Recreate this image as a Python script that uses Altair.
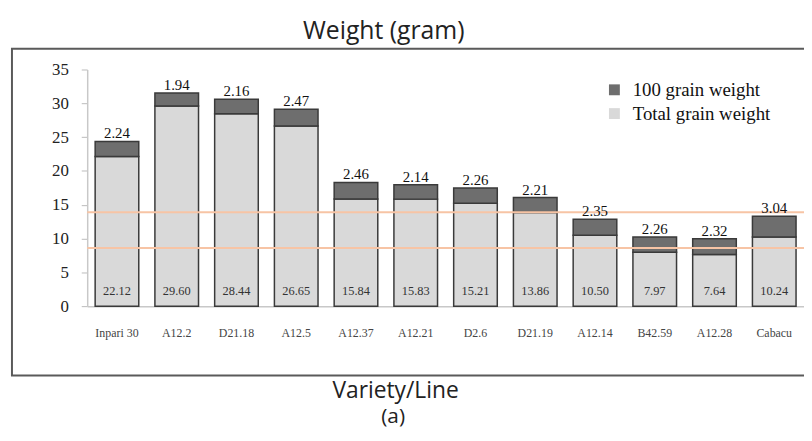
import altair as alt
import pandas as pd

varieties = ["Inpari 30", "A12.2", "D21.18", "A12.5", "A12.37", "A12.21",
             "D2.6", "D21.19", "A12.14", "B42.59", "A12.28", "Cabacu"]
total_weight = [22.12, 29.60, 28.44, 26.65, 15.84, 15.83, 15.21, 13.86, 10.50, 7.97, 7.64, 10.24]
grain100_weight = [2.24, 1.94, 2.16, 2.47, 2.46, 2.14, 2.26, 2.21, 2.35, 2.26, 2.32, 3.04]
ref_lines = [13.9, 8.6]
series = ["100 grain weight", "Total grain weight"]
y_ticks = [0, 5, 10, 15, 20, 25, 30, 35]

rows = []
for v, t, h in zip(varieties, total_weight, grain100_weight):
    rows.append({"variety": v, "series": "Total grain weight", "value": t, "ord": 0})
    rows.append({"variety": v, "series": "100 grain weight", "value": h, "ord": 1})
long_df = pd.DataFrame(rows)
wide_df = pd.DataFrame({"variety": varieties, "total": total_weight, "g100": grain100_weight})
ref_df = pd.DataFrame({"y": ref_lines})

W, H = 724, 239
SERIF = "Liberation Serif"
SANS = "Open Sans"

xscale = alt.Scale(domain=varieties, paddingInner=0.27, paddingOuter=0.133)
yscale = alt.Scale(domain=[0, 35], nice=False)

xaxis = alt.Axis(title="Variety/Line", ticks=False, labelAngle=0,
                 labelPadding=22, labelFont=SERIF, labelFontSize=12,
                 labelColor="#444", domainColor="#c8c8c8", domainWidth=1.5,
                 titleFont=SANS, titleFontSize=23, titleFontWeight="normal",
                 titleColor="#222", titleX=311, titleY=92,
                 titleBaseline="alphabetic", titleAlign="center")
yaxis = alt.Axis(title="Weight (gram)", values=y_ticks, grid=False,
                 tickSize=6, tickColor="#bbbbbb", domainColor="#c8c8c8",
                 domainWidth=1.5, labelPadding=13, labelFont=SERIF,
                 labelFontSize=17, labelColor="#222", labelOverlap=False,
                 titleFont=SANS, titleFontSize=25, titleFontWeight="normal",
                 titleColor="#222", titleAngle=0, titleX=299, titleY=-31,
                 titleBaseline="alphabetic", titleAlign="center")


def xenc():
    return alt.X("variety:N", sort=varieties, scale=xscale, axis=xaxis)


def yenc(field, **kw):
    return alt.Y(field, scale=yscale, axis=yaxis, **kw)


bars = alt.Chart(long_df).mark_bar(stroke="#3a3a3a", strokeWidth=1.5).encode(
    x=xenc(),
    y=yenc("value:Q", stack="zero"),
    color=alt.Color("series:N", scale=alt.Scale(domain=series, range=["#6e6e6e", "#d9d9d9"]),
                    legend=alt.Legend(title=None, orient="none", legendX=523, legendY=11,
                                      symbolType="square", symbolSize=121,
                                      symbolStrokeWidth=0, labelFont=SERIF,
                                      labelFontSize=19, labelColor="#111",
                                      rowPadding=4, labelOffset=9)),
    order=alt.Order("ord:Q", sort="ascending"),
)

rules = alt.Chart(ref_df).mark_rule(color="#f7c4a5", strokeWidth=2).encode(
    y=yenc("y:Q")
)

top_labels = alt.Chart(wide_df).transform_calculate(
    top="datum.total + datum.g100"
).mark_text(font=SERIF, fontSize=15, color="#111", baseline="alphabetic", dy=-3).encode(
    x=xenc(),
    y=yenc("top:Q"),
    text=alt.Text("g100:Q", format=".2f"),
)

bottom_labels = alt.Chart(wide_df).transform_calculate(
    zero="0"
).mark_text(font=SERIF, fontSize=12.5, color="#333", baseline="middle", dy=-15).encode(
    x=xenc(),
    y=yenc("zero:Q"),
    text=alt.Text("total:Q", format=".2f"),
)

border = alt.Chart(pd.DataFrame({"k": [0]})).mark_rect(
    fillOpacity=0, stroke="#5a5a5a", strokeWidth=2
).encode(
    x=alt.value(-76), x2=alt.value(W + 30), y=alt.value(-21), y2=alt.value(309)
)

chart = alt.layer(border, bars, rules, top_labels, bottom_labels).properties(
    width=W, height=H,
    title=alt.TitleParams("(a)", orient="bottom", font=SANS, fontSize=21,
                          fontWeight="normal", color="#222", anchor="middle",
                          dx=-53, offset=4),
    autosize=alt.AutoSizeParams(type="none"),
    padding={"left": 80, "top": 60, "right": 0, "bottom": 126},
    background="white",
).configure_view(stroke=None)

chart.save("out.html", embed_options={"renderer": "svg", "actions": False})
